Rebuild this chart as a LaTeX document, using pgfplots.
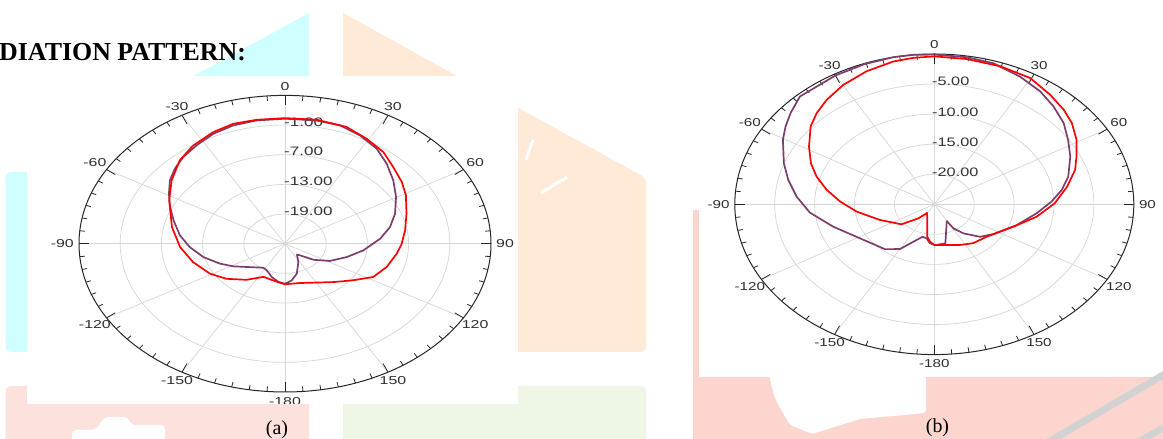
\documentclass[border=0pt]{standalone}
\usepackage{pgfplots}
\pgfplotsset{compat=1.18}
\usepackage{pgfplotstable}
\usepackage{graphicx}
\usepackage{fontspec}
\setmainfont{Liberation Serif}
\newfontfamily\sansf{Liberation Sans}
\newcommand{\tickfont}{\sansf\fontsize{11.5}{13}\selectfont}
\newcommand{\ringfont}{\sansf\fontsize{12.3}{14}\selectfont}
\definecolor{mred}{RGB}{255,0,0}
\definecolor{mpurple}{RGB}{125,62,108}
\definecolor{wcyan}{RGB}{206,254,254}
\definecolor{wpeach}{RGB}{255,234,216}
\definecolor{wpink}{RGB}{253,225,220}
\definecolor{wpinkb}{RGB}{252,214,206}
\definecolor{wgreen}{RGB}{238,247,230}
\definecolor{gridc}{RGB}{214,214,214}

\pgfplotstableread{
a db
180 -16.8
-171.2 -17.2
-155 -17.6
-142.6 -15.8
-129.8 -13.9
-119 -12.5
-105.6 -11.1
-92.5 -9.7
-78.5 -8.2
-62.6 -6.0
-52.2 -4.1
-42.2 -2.2
-33.9 -1.05
-24.8 -0.12
-17.2 0.4
-9.4 0.4
0 0.4
10.4 0.5
20.8 0.26
29.2 -0.67
37.7 -1.57
45.5 -2.9
53.7 -3.9
60.9 -4.85
71.1 -6.3
81.2 -7.3
90 -8.0
97 -8.6
107.6 -9.45
117.7 -10.5
126.6 -12.6
137.7 -14.5
152.3 -16.1
164.6 -16.75
180 -16.8
}\redA

\pgfplotstableread{
a db
180 -16.9
-173 -17.2
-163.9 -18.0
-153.7 -19.0
-147 -19.2
-130.2 -17.7
-121.4 -16.2
-113.1 -14.7
-102.8 -12.8
-92.8 -11.1
-83.7 -9.6
-73.8 -8.1
-66.1 -6.7
-59.1 -5.3
-52.6 -3.9
-46.5 -2.9
-40.2 -2.05
-32.9 -1.3
-25.1 -0.43
-17.5 0.09
-9.4 0.28
0 0.28
10.5 0.35
18.5 0.24
26.5 -0.52
34.8 -1.6
42.5 -3.07
50.9 -4.68
59.7 -6.27
69.3 -7.87
77.6 -9.34
85.8 -11.1
96.7 -13.5
106.7 -15.6
118.2 -17.6
128 -19.7
137.3 -21.8
141.6 -22.2
152.4 -20.8
164.2 -18.7
172.6 -17.5
180 -16.9
}\purpleA

\pgfplotstableread{
a db
179.4 -18.2
-175 -18.75
-170.8 -19.5
-148 -23.3
-139.3 -21.9
-129 -19.7
-110.9 -17.7
-97.2 -15.2
-87.8 -13.2
-79.9 -11.3
-72.7 -9.55
-66.2 -8.1
-58.6 -6.6
-50.1 -4.8
-44.2 -3.85
-37.8 -3.0
-29.9 -2.1
-21 -1.3
-12.2 -0.7
-6.2 -0.5
0 -0.4
9.5 -0.5
19.7 -0.6
29.7 -0.8
38.5 -1.7
45.8 -2.4
51.9 -3.1
59 -4.2
66 -5.5
72 -6.45
80 -8.1
89.3 -9.9
99.1 -12.0
110.6 -14.4
129.4 -16.5
143 -16.9
154.5 -17.5
168.8 -18.1
179.4 -18.2
}\redB

\pgfplotstableread{
a db
179.4 -18.2
-175 -18.5
-170.5 -19.25
-164.7 -19.4
-150 -16.4
-140.3 -15.3
-121.3 -14.1
-106.4 -11.8
-95.1 -9.35
-85.8 -7.7
-77.5 -6.25
-70.1 -4.95
-60.5 -3.2
-55.2 -2.3
-49.9 -1.45
-43.2 -0.4
-30 -0.25
-20.6 -0.1
-11.8 0
-6 0
0 -0.1
9.4 -0.2
17.5 -0.4
26.8 -1.2
35.2 -2.0
42.5 -2.9
50.2 -3.9
57.4 -5.1
65 -6.2
74.7 -7.6
81.5 -8.85
88.2 -10.3
96.7 -12.1
108.5 -14.1
123.8 -16.1
133.3 -17.1
143 -18.95
149 -20.3
150.8 -21.8
168 -18.35
179.4 -18.2
}\purpleB

% cx cy rx ry stretch
\newcommand{\polardeco}[5]{%
  \foreach \f in {0.2,0.4,0.6,0.8}{%
    \draw[gridc, line width=0.7bp] (#1,#2) ellipse [x radius={\f*#3*1bp}, y radius={\f*#4*1bp}];
  }%
  \foreach \t in {0,30,...,330}{%
    \draw[gridc, line width=0.7bp] (#1,#2) -- ({#1+#3*sin(\t)},{#2+#4*cos(\t)});
  }%
  \draw[black!85, line width=1bp] (#1,#2) ellipse [x radius={#3*1bp}, y radius={#4*1bp}];
  \foreach \t in {0,5,...,355}{%
    \pgfmathsetmacro\L{ifthenelse(mod(\t,30)==0,10,5)}%
    \draw[black!85, line width=0.8bp] ({#1+#3*sin(\t)},{#2+#4*cos(\t)}) -- ({#1+(#3-\L)*sin(\t)},{#2+(#4-\L)*cos(\t)});
  }%
  \foreach \t/\lab in {0/0,30/30,60/60,90/90,120/120,150/150,180/-180,210/-150,240/-120,270/-90,300/-60,330/-30}{%
    \pgfmathtruncatemacro\an{mod(630-\t,360)}%
    \node[anchor=\an, inner sep=0pt, text=black!82] at ({#1+(#3+5)*sin(\t)},{#2+(#4+5)*cos(\t)}) {\scalebox{#5}[1]{\tickfont\lab}};
  }%
}

\begin{document}
\begin{tikzpicture}[x=1bp,y=1bp]
\useasboundingbox (0,0) rectangle (1163,439);
\clip (0,0) rectangle (1163,439);
\fill[white] (0,0) rectangle (1163,439);
% ---- background watermark shapes
\fill[wcyan] (194,363) -- (309,426) -- (309,363) -- cycle;
\fill[wpeach] (343,426) -- (343,363) -- (457,363) -- cycle;
\fill[wcyan, rounded corners=6] (5.5,87) rectangle (40,267);
\fill[wpeach, rounded corners=6] (500,341) -- (646,261) -- (646,87) -- (500,87) -- cycle;
\fill[wpink, rounded corners=6] (5.5,-10) rectangle (309,53);
\fill[wgreen, rounded corners=6] (343,-10) rectangle (646,53);
\fill[white, rounded corners=4] (72,-5) -- (72,9) -- (94,9) -- (100,14) -- (104,22) -- (128,22) -- (131,14) -- (165,14) -- (165,-5) -- cycle;
\fill[wpinkb] (693,-5) rectangle (1163,62);
\fill[wpinkb] (693,62) rectangle (698.5,229);
\fill[white, rounded corners=3] (769,63) -- (926,63) -- (926,26) -- (860,20) -- (812,5) -- (790,14) -- (775,40) -- cycle;
\draw[gray!35, line width=7bp] (1045,-5) -- (1170,68);
\draw[gray!35, line width=7bp] (1135,-5) -- (1170,15);
\draw[white, line width=3bp] (526,279) -- (533,299);
\draw[white, line width=3bp] (541,246) -- (567,262);
% ---- chart (a)
\begin{scope}
\clip (27,35) rectangle (518,363);
\fill[white] (27,35) rectangle (518,363);
\polardeco{285}{195.3}{206}{148.3}{1.39}
\foreach \f/\lab in {0.2/-19.00,0.4/-13.00,0.6/-7.00,0.8/-1.00}{%
  \node[anchor=west, inner sep=0pt, text=black!80] at (284,{195.3+\f*148.3+3}) {\scalebox{1.39}[1]{\ringfont\lab}};
}
\begin{axis}[at={(285bp,195.3bp)}, anchor=center, scale only axis, width=412bp, height=296.6bp,
  xmin=-30, xmax=30, ymin=-30, ymax=30, axis lines=none, clip=false]
\addplot[mpurple, line width=1.7bp, mark=none, line join=round, data cs=polar] table[x expr={90-\thisrow{a}}, y expr={\thisrow{db}+25}] {\purpleA};
\addplot[mred, line width=1.7bp, mark=none, line join=round, data cs=polar] table[x expr={90-\thisrow{a}}, y expr={\thisrow{db}+25}] {\redA};
\end{axis}
\end{scope}
% ---- chart (b)
\polardeco{934.3}{234.7}{199.5}{150.3}{1.33}
\foreach \f/\lab in {0.2/-20.00,0.4/-15.00,0.6/-10.00,0.8/-5.00}{%
  \node[anchor=west, inner sep=0pt, text=black!80] at (932,{234.7+\f*150.3+2.3}) {\scalebox{1.33}[1]{\ringfont\lab}};
}
\begin{axis}[at={(934.3bp,234.7bp)}, anchor=center, scale only axis, width=399bp, height=300.6bp,
  xmin=-25, xmax=25, ymin=-25, ymax=25, axis lines=none, clip=false]
\addplot[mpurple, line width=1.7bp, mark=none, line join=round, data cs=polar] table[x expr={90-\thisrow{a}}, y expr={\thisrow{db}+25}] {\purpleB};
\addplot[mred, line width=1.7bp, mark=none, line join=round, data cs=polar] table[x expr={90-\thisrow{a}}, y expr={\thisrow{db}+25}] {\redB};
\end{axis}
% ---- text
\node[anchor=base west, inner sep=0pt] at (-1,378) {\fontsize{26}{30}\selectfont\bfseries DIATION PATTERN:};
\node[anchor=base, inner sep=0pt] at (277,4.5) {\fontsize{20}{24}\selectfont (a)};
\node[anchor=base, inner sep=0pt] at (937.5,6) {\fontsize{20}{24}\selectfont (b)};
\end{tikzpicture}
\end{document}
